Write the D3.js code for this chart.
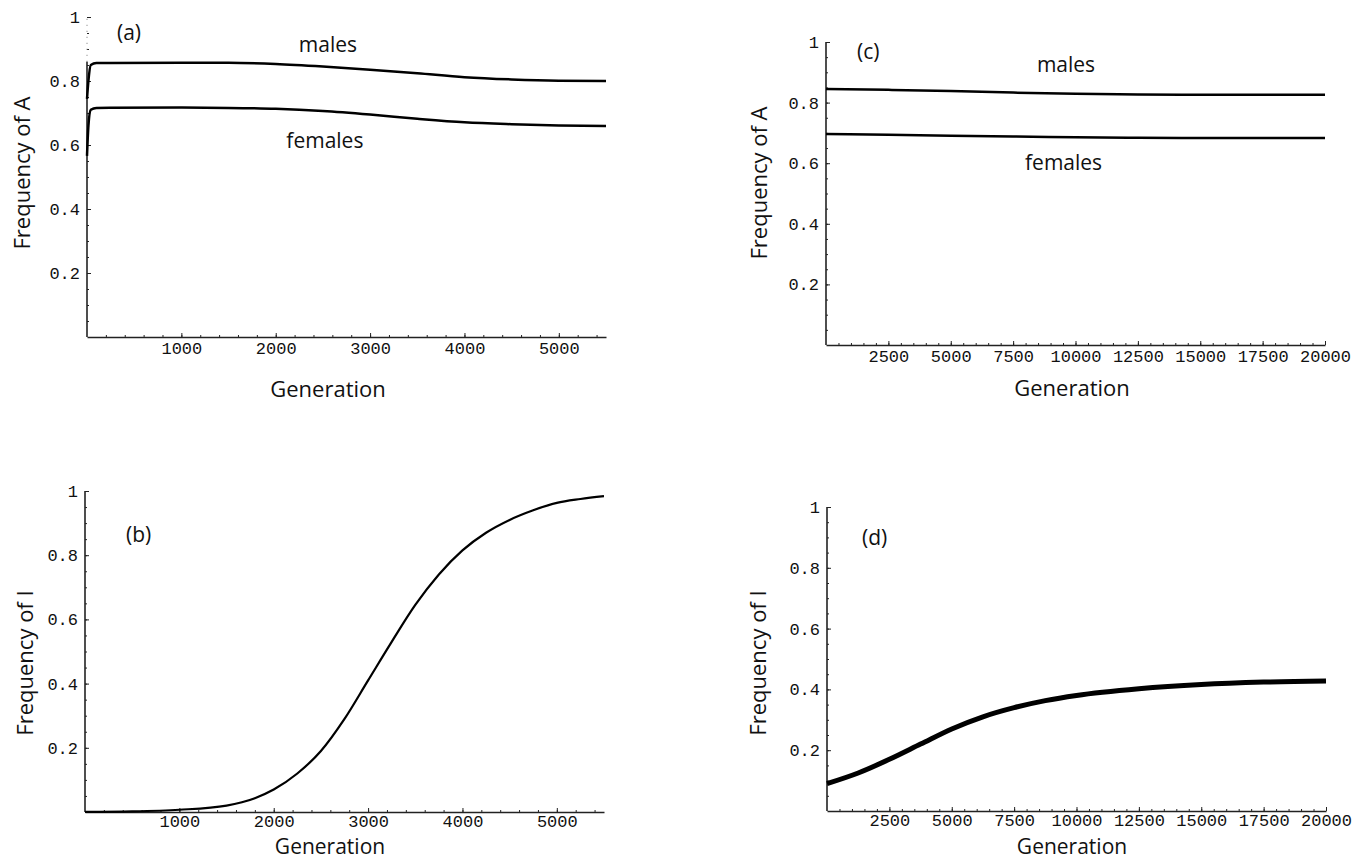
<!DOCTYPE html>
<html>
<head>
<meta charset="utf-8">
<script src="https://cdn.jsdelivr.net/npm/d3@7"></script>
<style>
  body { margin: 0; background: #fff; }
  .tick text { font-family: "Liberation Mono", monospace; font-size: 17px; fill: #111; }
  .ttl { font-family: "Open Sans", sans-serif; fill: #111; }
</style>
</head>
<body>
<div id="fig"></div>
<script>

// panel (a): frequency of A, short run
var genA = [0, 15, 40, 100, 1000, 1500, 2000, 2500, 3000, 3500, 4000, 4500, 5000, 5500];
var malesA = [0.744, 0.80, 0.85, 0.856, 0.857, 0.857, 0.853, 0.845, 0.835, 0.824, 0.812, 0.805, 0.801, 0.800];
var femalesA = [0.566, 0.66, 0.71, 0.716, 0.717, 0.716, 0.713, 0.706, 0.695, 0.682, 0.671, 0.665, 0.661, 0.659];

// panel (b): frequency of I, short run
var genB = [0, 500, 1000, 1500, 1800, 2000, 2250, 2500, 2750, 3000, 3250, 3500, 3750, 4000, 4250, 4500, 4750, 5000, 5250, 5500];
var freqIB = [0.0005, 0.002, 0.007, 0.02, 0.043, 0.07, 0.12, 0.19, 0.29, 0.41, 0.53, 0.645, 0.74, 0.815, 0.87, 0.91, 0.94, 0.963, 0.975, 0.984];

// panel (c): frequency of A, long run
var genC = [0, 2500, 5000, 7500, 10000, 12500, 15000, 17500, 20000];
var malesC = [0.845, 0.842, 0.838, 0.833, 0.829, 0.827, 0.826, 0.826, 0.826];
var femalesC = [0.696, 0.694, 0.691, 0.688, 0.686, 0.684, 0.683, 0.683, 0.683];

// panel (d): frequency of I, long run
var genD = [0, 1250, 2500, 3750, 5000, 6250, 7500, 8750, 10000, 12500, 15000, 17500, 20000];
var freqID = [0.09, 0.125, 0.17, 0.22, 0.27, 0.31, 0.34, 0.363, 0.38, 0.402, 0.416, 0.424, 0.428];

// ticks
var xTicksShort = [1000, 2000, 3000, 4000, 5000];
var xTicksLong = [2500, 5000, 7500, 10000, 12500, 15000, 17500, 20000];
var yTicks = [0.2, 0.4, 0.6, 0.8, 1];

var svg = d3.select("#fig").append("svg")
  .attr("width", 1360)
  .attr("height", 859);

function drawPanel(p) {
  var x = d3.scaleLinear().domain(p.xDomain).range(p.xRange);
  var y = d3.scaleLinear().domain([0, 1]).range(p.yRange);
  var g = svg.append("g");

  var fmtY = function(d) { return d === 1 ? "1" : d3.format(".1f")(d); };

  // minor ticks
  g.append("g")
    .attr("transform", "translate(0," + p.yRange[0] + ")")
    .call(d3.axisBottom(x).tickValues(d3.range(p.xMinor, p.xDomain[1] + 1, p.xMinor)).tickSize(-2).tickSizeOuter(0).tickFormat(""))
    .call(function(s) { s.select(".domain").remove(); });
  g.append("g")
    .attr("transform", "translate(" + p.xRange[0] + ",0)")
    .call(d3.axisLeft(y).tickValues(d3.range(0.05, 1.001, 0.05)).tickSize(-2).tickSizeOuter(0).tickFormat(""))
    .call(function(s) { s.select(".domain").remove(); });

  // major ticks
  var xa = g.append("g")
    .attr("transform", "translate(0," + p.yRange[0] + ")")
    .call(d3.axisBottom(x).tickValues(p.xTicks).tickSize(-4).tickSizeOuter(0).tickPadding(p.xPad).tickFormat(d3.format("d")));
  var ya = g.append("g")
    .attr("transform", "translate(" + p.xRange[0] + ",0)")
    .call(d3.axisLeft(y).tickValues(yTicks).tickSize(-4).tickSizeOuter(0).tickPadding(7).tickFormat(fmtY));

  g.selectAll(".tick line").attr("stroke", "#222").attr("stroke-width", 1);
  xa.select(".domain").attr("stroke", "#222").attr("stroke-width", 1.6);
  ya.select(".domain").remove();

  // y axis line (panel a has a faint dotted top part)
  var solidTop = p.dottedFrom || 1;
  g.append("line")
    .attr("x1", p.xRange[0]).attr("x2", p.xRange[0])
    .attr("y1", y(0)).attr("y2", y(solidTop))
    .attr("stroke", "#222").attr("stroke-width", 1.6);
  if (p.dottedFrom) {
    g.append("line")
      .attr("x1", p.xRange[0]).attr("x2", p.xRange[0])
      .attr("y1", y(solidTop)).attr("y2", y(1))
      .attr("stroke", "#777").attr("stroke-width", 1)
      .attr("stroke-dasharray", "1,5");
  }

  var line = d3.line()
    .x(function(d) { return x(d[0]); })
    .y(function(d) { return y(d[1]); })
    .curve(d3.curveMonotoneX);

  p.series.forEach(function(s) {
    g.append("path")
      .datum(d3.zip(p.gen, s))
      .attr("fill", "none")
      .attr("stroke", "#000")
      .attr("stroke-width", p.lineWidth)
      .attr("stroke-linejoin", "round")
      .attr("d", line);
  });

  // panel letter and curve names
  p.notes.forEach(function(n) {
    g.append("text")
      .attr("class", "ttl")
      .attr("x", x(n[1]))
      .attr("y", y(n[2]))
      .attr("text-anchor", n[3])
      .style("font-size", "21px")
      .text(n[0]);
  });

  // axis titles
  g.append("text")
    .attr("class", "ttl")
    .attr("x", p.xTitleX)
    .attr("y", p.yRange[0] + p.xTitleDy)
    .attr("text-anchor", "middle")
    .style("font-size", p.xTitleSize)
    .text("Generation");

  g.append("text")
    .attr("class", "ttl")
    .attr("transform", "translate(" + p.yTitleX + "," + p.yTitleY + ") rotate(-90)")
    .attr("text-anchor", "middle")
    .style("font-size", "22px")
    .text(p.yTitle);
}

drawPanel({
  xDomain: [0, 5500], xRange: [87, 606], yRange: [337, 17],
  xTicks: xTicksShort, xMinor: 200, dottedFrom: 0.86, xPad: 5,
  gen: genA, series: [malesA, femalesA], lineWidth: 2.5,
  notes: [["(a)", 318, 0.928, "start"], ["males", 2553, 0.89, "middle"], ["females", 2521, 0.59, "middle"]],
  xTitleX: 328, xTitleDy: 60, xTitleSize: "22px",
  yTitle: "Frequency of A", yTitleX: 30, yTitleY: 173
});

drawPanel({
  xDomain: [0, 5500], xRange: [85, 604], yRange: [812, 491],
  xTicks: xTicksShort, xMinor: 200, xPad: 3,
  gen: genB, series: [freqIB], lineWidth: 2.2,
  notes: [["(b)", 434, 0.841, "start"]],
  xTitleX: 330, xTitleDy: 42, xTitleSize: "21px",
  yTitle: "Frequency of I", yTitleX: 33, yTitleY: 663
});

drawPanel({
  xDomain: [0, 20000], xRange: [826, 1325], yRange: [345, 42],
  xTicks: xTicksLong, xMinor: 500, xPad: 5,
  gen: genC, series: [malesC, femalesC], lineWidth: 2.5,
  notes: [["(c)", 1242, 0.945, "start"], ["males", 9619, 0.902, "middle"], ["females", 9523, 0.578, "middle"]],
  xTitleX: 1072, xTitleDy: 51, xTitleSize: "22px",
  yTitle: "Frequency of A", yTitleX: 767, yTitleY: 183
});

drawPanel({
  xDomain: [0, 20000], xRange: [827, 1326], yRange: [811, 507],
  xTicks: xTicksLong, xMinor: 500, xPad: 3,
  gen: genD, series: [freqID], lineWidth: 5,
  notes: [["(d)", 1403, 0.875, "start"]],
  xTitleX: 1072, xTitleDy: 43, xTitleSize: "21px",
  yTitle: "Frequency of I", yTitleX: 766, yTitleY: 663
});

</script>
</body>
</html>
